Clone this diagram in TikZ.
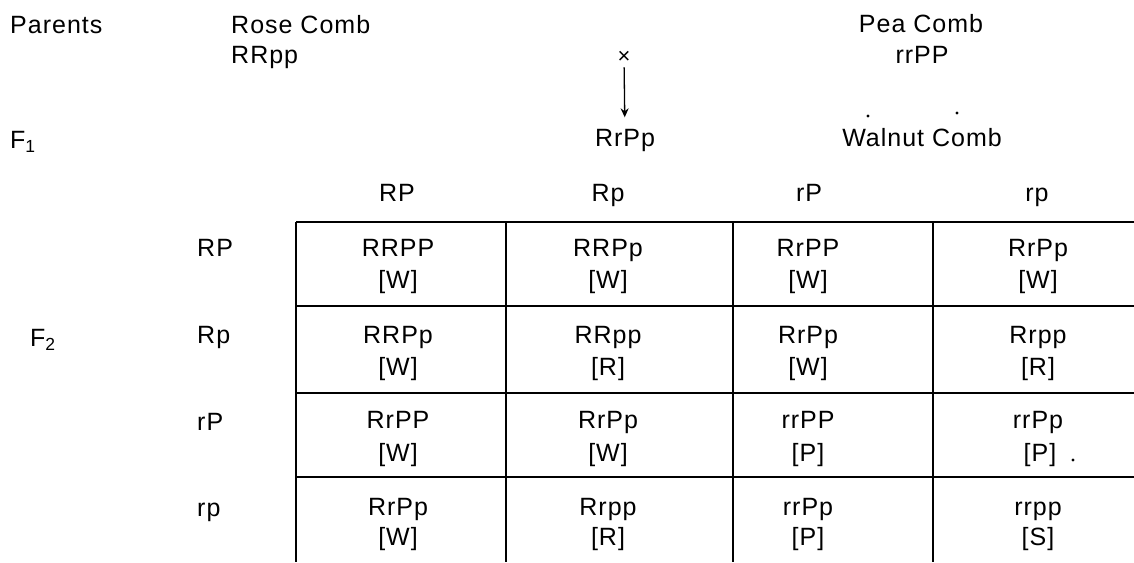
\documentclass[tikz,border=0pt]{standalone}
\usepackage{fontspec}
\setmainfont{Liberation Sans}[LetterSpace=4]
\usetikzlibrary{arrows.meta}
\tikzset{
  lab/.style={inner sep=0pt, text height=17pt, text depth=0pt, font=\fontsize{25}{30}\selectfont},
  grid/.style={line width=2.2pt, black},
  speck/.style={fill=black, draw=none, circle, inner sep=0pt, minimum size=3.2pt}
}
\begin{document}
\begin{tikzpicture}[x=1pt, y=-1pt]
\useasboundingbox (0,0) rectangle (1134,562);
% top labels
\node[lab, anchor=west] (parents) at (10,25) {Parents};
\node[lab, anchor=west] (rose) at (231,25) {Rose Comb};
\node[lab, anchor=west] (rosegt) at (231,55) {RRpp};
\node[lab] (pea) at (921,24) {Pea Comb};
\node[lab] (peagt) at (922,55) {rrPP};
\node[inner sep=0pt, font=\fontsize{22}{24}\selectfont] (cross) at (624,57) {×};
\node[lab] (f1gt) at (625,138) {RrPp};
\node[lab] (walnut) at (922,138) {Walnut Comb};
\node[lab, anchor=west] (f1) at (10,140) {F\textsubscript{1}};
\node[lab, anchor=west] (f2) at (30,338) {F\textsubscript{2}};
\draw[line width=1.3pt, -{Stealth[length=9pt,width=8pt]}, shorten <=4pt, shorten >=12pt] (cross) -- (f1gt);
\node[speck] (s1) at (868,116) {};
\node[speck] (s2) at (957,113) {};
\node[speck] (s3) at (1073,460) {};
% column headers
\node[lab] (c1) at (397,193) {RP};
\node[lab] (c2) at (608,193) {Rp};
\node[lab] (c3) at (809,193) {rP};
\node[lab] (c4) at (1037,193) {rp};
% row headers
\node[lab, anchor=west] (r1) at (197,248) {RP};
\node[lab, anchor=west] (r2) at (197,335) {Rp};
\node[lab, anchor=west] (r3) at (197,422) {rP};
\node[lab, anchor=west] (r4) at (197,508) {rp};
% grid
\draw[grid] (296,222) -- (1134,222);
\draw[grid] (296,306) -- (1134,306);
\draw[grid] (296,393) -- (1134,393);
\draw[grid] (296,477) -- (1134,477);
\draw[grid] (296,222) -- (296,562);
\draw[grid] (506,222) -- (506,562);
\draw[grid] (733,222) -- (733,562);
\draw[grid] (933,222) -- (933,562);
% cells row 1
\node[lab] (g11) at (398,248) {RRPP}; \node[lab] (p11) at (398,280) {[W]};
\node[lab] (g12) at (608,248) {RRPp}; \node[lab] (p12) at (608,280) {[W]};
\node[lab] (g13) at (808,248) {RrPP}; \node[lab] (p13) at (808,280) {[W]};
\node[lab] (g14) at (1038,248) {RrPp}; \node[lab] (p14) at (1038,280) {[W]};
% row 2
\node[lab] (g21) at (398,335) {RRPp}; \node[lab] (p21) at (398,367) {[W]};
\node[lab] (g22) at (608,335) {RRpp}; \node[lab] (p22) at (608,367) {[R]};
\node[lab] (g23) at (808,335) {RrPp}; \node[lab] (p23) at (808,367) {[W]};
\node[lab] (g24) at (1038,335) {Rrpp}; \node[lab] (p24) at (1038,367) {[R]};
% row 3
\node[lab] (g31) at (398,420) {RrPP}; \node[lab] (p31) at (398,453) {[W]};
\node[lab] (g32) at (608,420) {RrPp}; \node[lab] (p32) at (608,453) {[W]};
\node[lab] (g33) at (808,420) {rrPP}; \node[lab] (p33) at (808,453) {[P]};
\node[lab] (g34) at (1038,420) {rrPp}; \node[lab] (p34) at (1040,453) {[P]};
% row 4
\node[lab] (g41) at (398,507) {RrPp}; \node[lab] (p41) at (398,537) {[W]};
\node[lab] (g42) at (608,507) {Rrpp}; \node[lab] (p42) at (608,537) {[R]};
\node[lab] (g43) at (808,507) {rrPp}; \node[lab] (p43) at (808,537) {[P]};
\node[lab] (g44) at (1038,507) {rrpp}; \node[lab] (p44) at (1038,537) {[S]};
\end{tikzpicture}
\end{document}
